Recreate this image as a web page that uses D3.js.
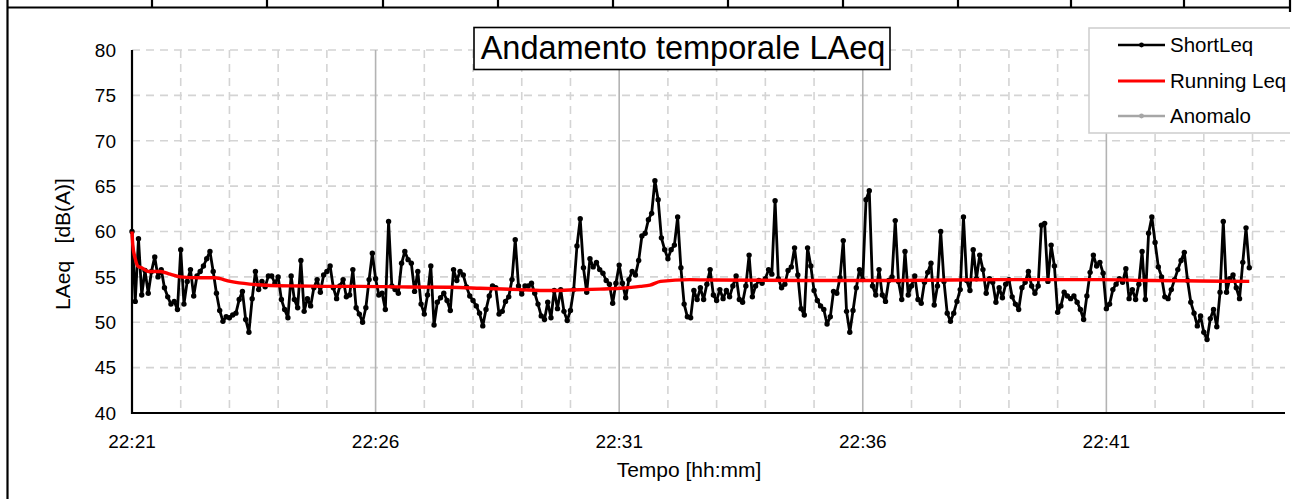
<!DOCTYPE html>
<html>
<head>
<meta charset="utf-8">
<script src="https://cdn.jsdelivr.net/npm/d3@7"></script>
<style>
  html, body { margin: 0; padding: 0; background: #fff; }
  svg { display: block; font-family: "Liberation Sans", Arial, sans-serif; }
</style>
</head>
<body>
<svg id="chart" width="1298" height="499"></svg>
<script>
// ---- Measurement series -------------------------------------------------
// Start of the measurement and sampling step of the short Leq values
const startClock = [22, 21, 0];      // hh, mm, ss
const stepSec = 4;

// ShortLeq, dB(A), one value every stepSec seconds
const shortLeq = [
  60.0, 52.3, 59.2, 53.0, 55.7, 53.2, 55.6, 57.2, 55.0, 55.8,
  53.8, 52.8, 52.0, 52.3, 51.4, 58.0, 52.0, 54.5, 55.8, 52.9,
  55.1, 55.6, 56.2, 57.0, 57.8, 55.6, 53.2, 51.3, 50.1, 50.6,
  50.5, 50.8, 51.0, 52.5, 53.4, 50.3, 48.9, 52.6, 55.6, 53.6,
  54.5, 53.9, 55.1,
  55.1, 54.3, 55.0, 52.5, 51.4, 50.5, 55.1, 52.5, 51.6, 56.8,
  51.2, 52.6, 51.8, 53.8, 54.7, 53.3, 55.2, 55.6, 56.2, 53.8,
  52.6, 54.0, 54.7, 52.8, 53.0, 55.8, 51.6, 50.9, 50.0, 51.6,
  54.7, 57.6, 54.8, 53.0, 53.2, 51.4, 61.1, 54.0, 53.6, 53.2,
  56.5, 57.8, 56.9,
  56.5, 53.4, 55.6, 52.0, 50.9, 53.0, 56.2, 49.7, 52.2, 52.7,
  53.2, 52.4, 51.3, 55.8, 54.6, 55.6, 55.2, 53.9, 52.9, 52.4,
  51.8, 51.0, 49.6, 51.4, 52.9, 54.0, 53.8, 50.9, 51.2, 52.3,
  52.8, 54.7, 59.1, 54.0, 53.1, 54.0, 54.0, 54.3, 53.2, 52.0,
  50.7, 50.3, 52.2,
  50.5, 53.5, 51.5, 53.6, 51.2, 50.2, 51.3, 53.6, 58.4, 61.4,
  56.0, 53.3, 57.0, 56.1, 56.6, 55.8, 55.4, 54.6, 54.2, 52.1,
  54.3, 56.3, 54.3, 52.7, 54.7, 55.6, 55.2, 56.8, 59.5, 59.8,
  61.3, 62.0, 65.6, 63.5, 59.3, 58.0, 57.0, 58.0, 58.5, 61.6,
  56.0, 52.0, 50.6,
  50.5, 53.5, 52.5, 53.8, 52.5, 54.2, 55.8, 53.0, 52.4, 53.6,
  52.6, 53.5, 52.8, 54.0, 55.1, 52.5, 52.2, 54.0, 57.4, 52.8,
  54.0, 54.6, 54.3, 54.8, 55.8, 55.3, 63.4, 54.8, 53.8, 54.2,
  55.7, 56.1, 58.2, 55.2, 51.5, 50.8, 58.2, 56.2, 53.5, 52.4,
  51.8, 51.4, 49.8,
  50.6, 53.4, 53.2, 54.9, 59.0, 51.2, 48.9, 51.3, 53.8, 55.8,
  54.7, 63.5, 64.5, 54.0, 53.0, 55.8, 53.0, 52.3, 54.6, 55.0,
  61.2, 54.5, 52.5, 57.8, 53.0, 54.0, 55.1, 52.5, 52.1, 54.4,
  55.5, 56.5, 51.9, 54.0, 60.0, 54.5, 51.0, 50.1, 51.0, 52.3,
  53.6, 61.6, 54.6,
  53.5, 58.0, 54.8, 57.4, 55.8, 53.2, 54.8, 54.4, 52.2, 53.8,
  52.7, 54.2, 54.7, 52.8, 52.0, 51.4, 53.8, 54.4, 55.6, 54.0,
  53.2, 54.0, 60.7, 60.9, 54.5, 58.5, 56.2, 51.1, 51.8, 53.3,
  52.9, 52.6, 52.9, 52.2, 51.4, 50.3, 52.9, 55.5, 57.4, 56.2,
  56.6, 55.4, 51.5,
  52.0, 53.6, 54.2, 54.8, 54.4, 55.9, 52.6, 53.6, 52.5, 54.2,
  57.8, 52.5, 59.8, 61.6, 58.8, 56.1, 55.0, 52.8, 52.6, 53.6,
  54.7, 55.8, 56.8, 57.7, 54.6, 52.2, 51.0, 49.6, 50.7, 48.9,
  48.1, 50.4, 51.4, 49.5, 53.3, 61.1, 53.3, 54.8, 55.2, 53.8,
  52.6, 56.6, 60.4, 56.0
];

// Running Leq, dB(A): seconds from start and level
const runningSec = [0, 1, 4, 7, 12, 20, 35, 47, 59, 84, 102, 121, 145, 170, 207,
  244, 281, 330, 392, 429, 478, 512, 539, 576, 601, 626, 638, 651, 687, 720,
  823, 946, 1069, 1192, 1254, 1315, 1376];
const runningLeq = [60.0, 58.5, 57.0, 56.2, 56.0, 55.6, 55.6, 55.3, 55.0, 54.9, 54.9,
  54.5, 54.2, 54.05, 54.0, 53.95, 53.95, 53.9, 53.85, 53.75, 53.6, 53.5, 53.55,
  53.65, 53.75, 53.95, 54.1, 54.5, 54.7, 54.65, 54.6, 54.6, 54.7, 54.7, 54.6,
  54.55, 54.5];

// Readings flagged as anomalous (none in this measurement)
const anomalo = [];

// Axis ticks and labels
const yTicks = [40, 45, 50, 55, 60, 65, 70, 75, 80];
const xLabelSec = [0, 300, 600, 900, 1200];
const xTickLabels = ["22:21", "22:26", "22:31", "22:36", "22:41"];
const axisEndSec = 1420;

const legendNames = ["ShortLeq", "Running Leq", "Anomalo"];
const legendColors = ["#000000", "#ff0000", "#a6a6a6"];

// ---- Layout ---------------------------------------------------------------
const svg = d3.select("#chart");
const plot = { left: 132, right: 1285, top: 50, bottom: 413 };

const x = d3.scaleLinear().domain([0, axisEndSec]).range([plot.left, plot.right]);
const y = d3.scaleLinear().domain([40, 80]).range([plot.bottom, plot.top]);

// the chart sits in a table cell that cuts it off on the right
svg.append("defs").append("clipPath").attr("id", "cell")
  .append("rect").attr("x", 0).attr("y", 0).attr("width", 1290).attr("height", 499);

const g = svg.append("g").attr("clip-path", "url(#cell)");

// ---- Table frame ----------------------------------------------------------
const frame = svg.append("g").attr("stroke", "#000").attr("stroke-width", 2.2);
frame.append("line").attr("x1", 7).attr("x2", 1291).attr("y1", 7.5).attr("y2", 7.5);
frame.append("line").attr("x1", 7.5).attr("x2", 7.5).attr("y1", 0).attr("y2", 499);
const cellDividers = [152, 267, 383, 498, 613, 728, 843, 958, 1071, 1184, 1290];
frame.selectAll("line.div").data(cellDividers).enter().append("line")
  .attr("class", "div")
  .attr("x1", d => d).attr("x2", d => d)
  .attr("y1", 0).attr("y2", d => d === 1290 ? 12 : 7.5);

// ---- Gridlines ------------------------------------------------------------
const grid = g.append("g");
grid.selectAll("line.h").data(yTicks.filter(v => v > 40)).enter().append("line")
  .attr("x1", plot.left).attr("x2", plot.right)
  .attr("y1", d => y(d)).attr("y2", d => y(d))
  .attr("stroke", "#d4d4d4").attr("stroke-width", 1.6)
  .attr("stroke-dasharray", "8,6");

const minuteSec = d3.range(60, axisEndSec, 60);
grid.selectAll("line.v").data(minuteSec).enter().append("line")
  .attr("x1", d => x(d)).attr("x2", d => x(d))
  .attr("y1", plot.top).attr("y2", plot.bottom)
  .attr("stroke", d => d % 300 === 0 ? "#b3b3b3" : "#d4d4d4")
  .attr("stroke-width", 1.6)
  .attr("stroke-dasharray", d => d % 300 === 0 ? null : "8,6");

// ---- Axes -------------------------------------------------------------------
g.append("line").attr("x1", plot.left).attr("x2", plot.left)
  .attr("y1", plot.top).attr("y2", plot.bottom + 1)
  .attr("stroke", "#000").attr("stroke-width", 2.2);
g.append("line").attr("x1", plot.left - 1).attr("x2", plot.right)
  .attr("y1", plot.bottom).attr("y2", plot.bottom)
  .attr("stroke", "#000").attr("stroke-width", 2.2);

g.append("g").selectAll("text").data(yTicks).enter().append("text")
  .attr("x", 116).attr("y", d => y(d)).attr("dy", "0.36em")
  .attr("text-anchor", "end").attr("font-size", 19).attr("fill", "#000")
  .text(d => d);

g.append("g").selectAll("text").data(xLabelSec).enter().append("text")
  .attr("x", d => x(d)).attr("y", 448)
  .attr("text-anchor", "middle").attr("font-size", 19).attr("fill", "#000")
  .text((d, i) => xTickLabels[i]);

g.append("text").attr("x", 689).attr("y", 477).attr("text-anchor", "middle")
  .attr("font-size", 21).attr("fill", "#000").text("Tempo [hh:mm]");

g.append("text").attr("transform", "translate(70,244) rotate(-90)")
  .attr("text-anchor", "middle").attr("font-size", 21).attr("fill", "#000")
  .style("white-space", "pre").text("LAeq   [dB(A)]");

// ---- Series -------------------------------------------------------------
const shortPts = shortLeq.map((v, i) => ({ t: i * stepSec, v }));
const runPts = runningSec.map((t, i) => ({ t, v: runningLeq[i] }));

const line = d3.line().x(d => x(d.t)).y(d => y(d.v));

const series = g.append("g");
series.append("path").datum(shortPts).attr("d", line)
  .attr("fill", "none").attr("stroke", legendColors[0])
  .attr("stroke-width", 2.8).attr("stroke-linejoin", "round");
series.selectAll("circle.s").data(shortPts).enter().append("circle")
  .attr("cx", d => x(d.t)).attr("cy", d => y(d.v)).attr("r", 2.7)
  .attr("fill", legendColors[0]);

series.append("path").datum(anomalo).attr("d", line)
  .attr("fill", "none").attr("stroke", legendColors[2]).attr("stroke-width", 2);

series.append("path").datum(runPts).attr("d", d3.line().curve(d3.curveMonotoneX)
    .x(d => x(d.t)).y(d => y(d.v)))
  .attr("fill", "none").attr("stroke", legendColors[1])
  .attr("stroke-width", 3.4).attr("stroke-linejoin", "round");

// ---- Title ----------------------------------------------------------------
g.append("rect").attr("x", 474).attr("y", 27.5).attr("width", 416).attr("height", 42)
  .attr("fill", "#fff").attr("stroke", "#000").attr("stroke-width", 1.6);
g.append("text").attr("x", 683).attr("y", 59).attr("text-anchor", "middle")
  .attr("font-size", 32.5).attr("fill", "#000").text("Andamento temporale LAeq");

// ---- Legend ---------------------------------------------------------------
const legend = g.append("g");
legend.append("rect").attr("x", 1089).attr("y", 28).attr("width", 215).attr("height", 105)
  .attr("fill", "#fff").attr("stroke", "#d0d0d0").attr("stroke-width", 1.6);
const rowY = [45, 81, 116];
const items = legend.selectAll("g.item").data(legendNames).enter().append("g")
  .attr("transform", (d, i) => `translate(0,${rowY[i]})`);
items.append("line").attr("x1", 1118).attr("x2", 1165).attr("y1", 0).attr("y2", 0)
  .attr("stroke", (d, i) => legendColors[i])
  .attr("stroke-width", (d, i) => i === 1 ? 3 : 2.4);
items.filter((d, i) => i !== 1).append("circle")
  .attr("cx", 1141.5).attr("cy", 0).attr("r", 2.4)
  .attr("fill", (d, i) => i === 0 ? legendColors[0] : legendColors[2]);
items.append("text").attr("x", 1170).attr("y", 0).attr("dy", "0.36em")
  .attr("font-size", 20.5).attr("fill", "#000").text(d => d);
</script>
</body>
</html>
